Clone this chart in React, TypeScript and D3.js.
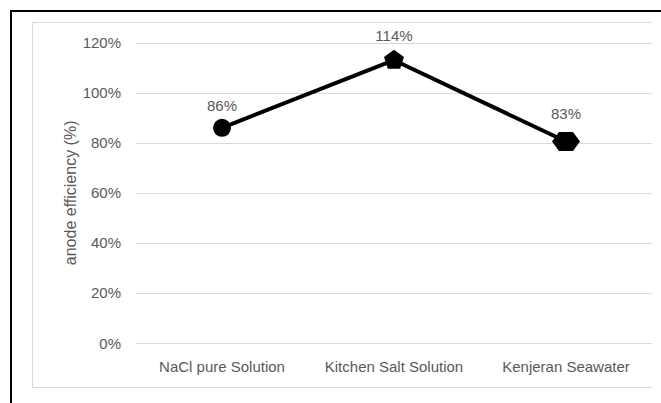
import React from "react";
import * as d3 from "d3";

const categories = ["NaCl pure Solution", "Kitchen Salt Solution", "Kenjeran Seawater"];
const plottedValues = [0.86, 1.13, 0.805];
const labelValues = [0.86, 1.14, 0.83];
const markerShapes = ["circle", "pentagon", "hexagon"];
const yTicks = [0, 0.2, 0.4, 0.6, 0.8, 1.0, 1.2];
const yTitle = "anode efficiency (%)";

const W = 661;
const H = 403;
const plotLeft = 136;
const plotRight = 652;
const plotTop = 42.7;
const plotBottom = 343;
const FONT = "'Liberation Sans', Arial, sans-serif";
const TEXT = "#595959";

function markerPath(shape: string, cx: number, cy: number): string {
  if (shape === "pentagon") {
    const r = 10.5;
    const pts = d3.range(5).map((i) => {
      const a = -Math.PI / 2 + (i * 2 * Math.PI) / 5;
      return [cx + r * Math.cos(a), cy + r * Math.sin(a)];
    });
    return "M" + pts.map((p) => p.join(",")).join("L") + "Z";
  }
  if (shape === "hexagon") {
    const hw = 14;
    const hh = 9.5;
    const pts = [
      [cx - hw, cy],
      [cx - hw / 2, cy - hh],
      [cx + hw / 2, cy - hh],
      [cx + hw, cy],
      [cx + hw / 2, cy + hh],
      [cx - hw / 2, cy + hh],
    ];
    return "M" + pts.map((p) => p.join(",")).join("L") + "Z";
  }
  return "";
}

export default function App() {
  const x = d3.scaleBand<string>().domain(categories).range([plotLeft, plotRight]);
  const y = d3.scaleLinear().domain([0, 1.2]).range([plotBottom, plotTop]);
  const cx = (c: string) => (x(c) as number) + x.bandwidth() / 2;
  const line = d3
    .line<number>()
    .x((_, i) => cx(categories[i]))
    .y((d) => y(d));

  return (
    <svg
      width={W}
      height={H}
      style={{ position: "absolute", left: 0, top: 0, background: "#fff" }}
    >
      <rect x={0} y={0} width={W} height={H} fill="#fff" />
      {/* outer black border */}
      <path d={`M11,${H + 5}V11H${W + 5}`} fill="none" stroke="#000" strokeWidth={2} />
      {/* chart area border */}
      <path
        d={`M${plotRight},22.5H32.5V387.5H${plotRight}`}
        fill="none"
        stroke="#d9d9d9"
        strokeWidth={1}
      />
      {/* gridlines and y labels */}
      {yTicks.map((t) => (
        <g key={t}>
          <line
            x1={plotLeft}
            x2={plotRight}
            y1={Math.round(y(t)) + 0.5}
            y2={Math.round(y(t)) + 0.5}
            stroke="#d9d9d9"
            strokeWidth={1}
          />
          <text
            x={121}
            y={y(t)}
            textAnchor="end"
            dominantBaseline="central"
            fontFamily={FONT}
            fontSize={15}
            fill={TEXT}
          >
            {d3.format(".0%")(t)}
          </text>
        </g>
      ))}
      {/* category labels */}
      {categories.map((c) => (
        <text
          key={c}
          x={cx(c)}
          y={366}
          textAnchor="middle"
          dominantBaseline="central"
          fontFamily={FONT}
          fontSize={15}
          fill={TEXT}
        >
          {c}
        </text>
      ))}
      {/* y title */}
      <text
        transform={`translate(70,${(plotTop + plotBottom) / 2}) rotate(-90)`}
        textAnchor="middle"
        dominantBaseline="central"
        fontFamily={FONT}
        fontSize={16}
        fill={TEXT}
      >
        {yTitle}
      </text>
      {/* line */}
      <path d={line(plottedValues) || ""} fill="none" stroke="#000" strokeWidth={4} strokeLinejoin="round" />
      {/* markers */}
      {plottedValues.map((v, i) => {
        const px = cx(categories[i]);
        const py = y(v);
        const shape = markerShapes[i];
        if (shape === "circle") {
          return <circle key={i} cx={px} cy={py} r={9} fill="#000" />;
        }
        return <path key={i} d={markerPath(shape, px, py)} fill="#000" />;
      })}
      {/* data labels */}
      {labelValues.map((v, i) => (
        <text
          key={i}
          x={cx(categories[i])}
          y={y(v) - 22}
          textAnchor="middle"
          dominantBaseline="central"
          fontFamily={FONT}
          fontSize={15}
          fill={TEXT}
        >
          {d3.format(".0%")(v)}
        </text>
      ))}
    </svg>
  );
}
